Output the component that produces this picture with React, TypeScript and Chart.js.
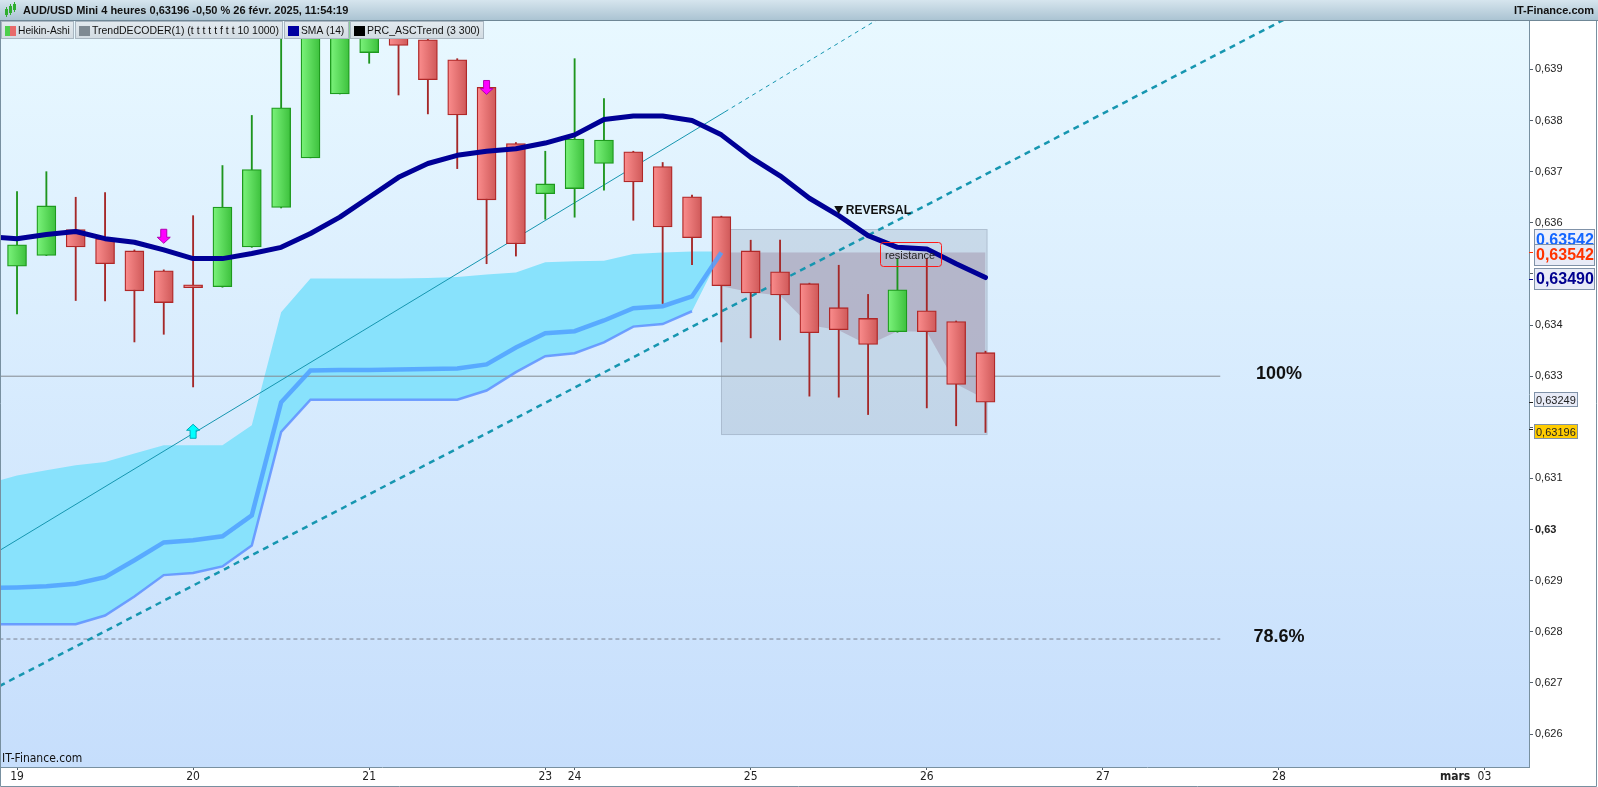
import { useEffect, useRef } from 'react';
import { Chart, registerables } from 'chart.js';

Chart.register(...registerables);

// Heikin-Ashi 4h candles, index 0 = 19 févr. 00:00 (one step = 4 hours, week-end skipped)
const haOpen = [
  0.63515, 0.63536, 0.63587, 0.63569, 0.63545, 0.63506, 0.63475, 0.63475, 0.63553, 0.6363,
  0.63727, 0.63852, 0.63933, 0.63969, 0.63958, 0.63919, 0.63865, 0.63755, 0.63657, 0.63667,
  0.63716, 0.63739, 0.6371, 0.63651, 0.63612, 0.63545, 0.63504, 0.63481, 0.63434, 0.63413,
  0.63387, 0.63428, 0.63407, 0.63346,
];
const haHigh = [
  0.63661, 0.637, 0.6365, 0.63659, 0.63547, 0.63508, 0.63614, 0.63712, 0.6381, 0.6401,
  0.6402, 0.6403, 0.6402, 0.6399, 0.6397, 0.63921, 0.63868, 0.63757, 0.6374, 0.63921,
  0.63843, 0.6374, 0.63718, 0.63654, 0.63613, 0.63566, 0.63566, 0.63482, 0.63517, 0.6346,
  0.6353, 0.6353, 0.63408, 0.63349,
];
const haLow = [
  0.63422, 0.63536, 0.63448, 0.63447, 0.63367, 0.63382, 0.63279, 0.63474, 0.63552, 0.63629,
  0.63727, 0.63852, 0.63912, 0.6385, 0.63813, 0.63706, 0.6352, 0.63535, 0.63607, 0.63611,
  0.63664, 0.63605, 0.63442, 0.63518, 0.63367, 0.63375, 0.63371, 0.63261, 0.63259, 0.63225,
  0.63386, 0.63238, 0.63203, 0.6319,
];
const haClose = [
  0.63557, 0.63633, 0.63553, 0.6352, 0.63467, 0.63444, 0.63473, 0.63631, 0.63704, 0.63825,
  0.63977, 0.64014, 0.64005, 0.63947, 0.6388, 0.63811, 0.63645, 0.63559, 0.63676, 0.63764,
  0.63762, 0.6368, 0.63592, 0.63571, 0.63477, 0.63463, 0.63459, 0.63385, 0.63391, 0.63362,
  0.63469, 0.63387, 0.63284, 0.63249,
];

// SMA(14), from index -1 to 33
const sma14 = [
  0.63573, 0.63569, 0.63577, 0.63583, 0.63569, 0.63562, 0.63547, 0.6353, 0.6353, 0.6354,
  0.63552, 0.63579, 0.63611, 0.6365, 0.63689, 0.63716, 0.63732, 0.6374, 0.63745, 0.63756,
  0.63772, 0.63802, 0.63809, 0.63809, 0.638, 0.63772, 0.63728, 0.63692, 0.63648, 0.63614,
  0.63575, 0.63552, 0.63549, 0.6352, 0.63493,
];

// TrendDECODER cloud and bands, from index -1
const cloudTop = [
  0.6309, 0.63106, 0.63116, 0.63126, 0.63132, 0.63149, 0.63165, 0.63165, 0.63165, 0.63204,
  0.63425, 0.63491, 0.63491, 0.63491, 0.63491, 0.63492, 0.63494, 0.63499, 0.63503, 0.63523,
  0.63525, 0.63526, 0.63539, 0.63542, 0.63544, 0.63544,
];
const cloudBottom = [
  0.62815, 0.62815, 0.62815, 0.62815, 0.62832, 0.62869, 0.62911, 0.62915, 0.62928, 0.62969,
  0.63191, 0.63254, 0.63254, 0.63254, 0.63254, 0.63254, 0.63254, 0.63272, 0.63308, 0.63339,
  0.63345, 0.63366, 0.63397, 0.63402, 0.63427, 0.63542,
];
const bandUpper = [
  0.62886, 0.62887, 0.62889, 0.62894, 0.62907, 0.6294, 0.62975, 0.62979, 0.62987, 0.63028,
  0.63249, 0.63311, 0.63312, 0.63312, 0.63313, 0.63314, 0.63315, 0.63323, 0.63356, 0.63384,
  0.63388, 0.63409, 0.63433, 0.63437, 0.63456, 0.63542,
];
const bandLower = [
  0.62815, 0.62815, 0.62815, 0.62815, 0.62832, 0.62869, 0.62911, 0.62915, 0.62928, 0.62969,
  0.63191, 0.63254, 0.63254, 0.63254, 0.63254, 0.63254, 0.63254, 0.63272, 0.63308, 0.63339,
  0.63345, 0.63366, 0.63397, 0.63402, 0.63427,
];

// resistance zone, from index 24 to 33
const zoneTop = 0.63542;
const zoneLow = [0.63476, 0.63464, 0.63458, 0.634, 0.6339, 0.63361, 0.63388, 0.63387, 0.63285, 0.63255];
const zoneX = [24, 33.05];
const zoneY = [0.63186, 0.63587];

// PRC_ASCTrend lines: [index, price]
const thinTrend = [[-0.6, 0.62959], [24.12, 0.63817]];
const thinTrendExt = [[24.12, 0.63817], [31, 0.64056]];
const thickTrend = [[-0.6, 0.62694], [44, 0.64022]];

const fibLevels = [0.633, 0.62786];
const fibNames = ['100%', '78.6%'];
const fibEnd = 41;
const fibLabelAt = 43;

const arrowsDown = [[5, 0.6356], [16, 0.63851]];
const arrowsUp = [[6, 0.63206]];
const reversalAt = [28, 0.63625];
const resistanceAt = [30.43, 0.63538];

const dayTickIdx = [0, 6, 12, 18, 19, 25, 31, 37, 43, 49, 50];
const dayTickText = ['19', '20', '21', '23', '24', '25', '26', '27', '28', 'mars', '03'];
const priceTicks = [0.626, 0.627, 0.628, 0.629, 0.63, 0.631, 0.632, 0.633, 0.634, 0.635, 0.636, 0.637, 0.638, 0.639];
// 0,632 and 0,635 sit under the price tags
const priceTickText = ['0,626', '0,627', '0,628', '0,629', '0,63', '0,631', '', '0,633', '0,634', '', '0,636', '0,637', '0,638', '0,639'];

const tagValues = [0.63542, 0.63542, 0.6349, 0.63249, 0.63196];
const tagText = ['0,63542', '0,63542', '0,63490', '0,63249', '0,63196'];

const SANS = "'Liberation Sans', Arial, sans-serif";
const NARROW = "'Liberation Sans Narrow', 'DejaVu Sans Condensed', 'Liberation Sans', sans-serif";
const TEAL = 'rgb(22,150,176)';

const isUp = (i: number) => haClose[i] >= haOpen[i];
const series = (arr: number[], start: number) => arr.map((y, i) => ({ x: start + i, y }));
const pairs = (arr: number[][]) => arr.map(([x, y]) => ({ x, y }));

const tagStyle = [
  { color: '#1466ff', font: `bold 16px ${SANS}`, w: 61, h: 22, dy: -12, bg: '#eef0fa' },
  { color: '#ff3300', font: `bold 16px ${SANS}`, w: 61, h: 22, dy: 3, bg: '#e8ebf7' },
  { color: '#00008f', font: `bold 16px ${SANS}`, w: 61, h: 22, dy: 0, bg: '#e8ebf7' },
  { color: '#222', font: `11px ${SANS}`, w: 44, h: 15, dy: -2.5, bg: '#e8ebf7' },
  { color: '#222', font: `11px ${SANS}`, w: 44, h: 15, dy: 1.7, bg: '#ffcc00' },
];

function arrow(ctx: CanvasRenderingContext2D, x: number, tip: number, down: boolean, fill: string, stroke: string) {
  const d = down ? -1 : 1;
  ctx.beginPath();
  ctx.moveTo(x - 3, tip + d * 14);
  ctx.lineTo(x + 3, tip + d * 14);
  ctx.lineTo(x + 3, tip + d * 6);
  ctx.lineTo(x + 6.5, tip + d * 6);
  ctx.lineTo(x, tip);
  ctx.lineTo(x - 6.5, tip + d * 6);
  ctx.lineTo(x - 3, tip + d * 6);
  ctx.closePath();
  ctx.fillStyle = fill;
  ctx.fill();
  ctx.strokeStyle = stroke;
  ctx.lineWidth = 1;
  ctx.stroke();
}

const itfPlugin = {
  id: 'itf',
  beforeDraw(chart: any) {
    const { ctx, chartArea: a, width, height } = chart;
    ctx.save();
    ctx.fillStyle = '#fff';
    ctx.fillRect(0, 0, width, height);
    const g = ctx.createLinearGradient(0, a.top, 0, a.bottom);
    g.addColorStop(0, '#e8f8ff');
    g.addColorStop(1, '#c6defc');
    ctx.fillStyle = g;
    ctx.fillRect(a.left, a.top, a.right - a.left, a.bottom - a.top);
    ctx.restore();
  },
  beforeDatasetsDraw(chart: any) {
    const { ctx, scales } = chart;
    const x0 = scales.x.getPixelForValue(zoneX[0]);
    const x1 = scales.x.getPixelForValue(zoneX[1]);
    const y0 = scales.y.getPixelForValue(zoneY[1]);
    const y1 = scales.y.getPixelForValue(zoneY[0]);
    ctx.save();
    ctx.fillStyle = 'rgba(150,165,185,0.3)';
    ctx.fillRect(x0, y0, x1 - x0, y1 - y0);
    ctx.strokeStyle = 'rgba(140,155,175,0.5)';
    ctx.lineWidth = 1;
    ctx.strokeRect(Math.round(x0) + 0.5, Math.round(y0) + 0.5, x1 - x0, y1 - y0);
    ctx.restore();
  },
  afterDatasetsDraw(chart: any) {
    const { ctx, scales } = chart;
    const X = (v: number) => scales.x.getPixelForValue(v);
    const Y = (v: number) => scales.y.getPixelForValue(v);
    ctx.save();
    arrowsDown.forEach(([i, v]) => arrow(ctx, X(i), Y(v), true, '#ff00ff', '#b000b0'));
    arrowsUp.forEach(([i, v]) => arrow(ctx, X(i), Y(v), false, '#00ffff', '#00a8b8'));

    // reversal marker
    const rx = X(reversalAt[0]);
    const ry = Y(reversalAt[1]);
    ctx.fillStyle = '#111';
    ctx.beginPath();
    ctx.moveTo(rx - 4.5, ry - 4);
    ctx.lineTo(rx + 4.5, ry - 4);
    ctx.lineTo(rx, ry + 4);
    ctx.closePath();
    ctx.fill();
    ctx.font = `bold 12px ${SANS}`;
    ctx.textBaseline = 'middle';
    ctx.textAlign = 'left';
    ctx.fillText('REVERSAL', rx + 7, ry + 0.5);

    // resistance label
    const sx = X(resistanceAt[0]);
    const sy = Y(resistanceAt[1]);
    ctx.strokeStyle = '#ff1a1a';
    ctx.lineWidth = 1;
    ctx.beginPath();
    ctx.roundRect(Math.round(sx - 30.5) + 0.5, Math.round(sy - 12.5) + 0.5, 61, 24, 3);
    ctx.stroke();
    ctx.fillStyle = '#222';
    ctx.font = `11px ${SANS}`;
    ctx.textAlign = 'center';
    ctx.fillText('resistance', sx, sy + 1);

    // fibonacci labels
    ctx.font = `bold 18px ${SANS}`;
    ctx.fillStyle = '#111';
    fibLevels.forEach((lv, k) => ctx.fillText(fibNames[k], X(fibLabelAt), Y(lv) - 2));

    // watermark
    ctx.font = `12px ${NARROW}`;
    ctx.textAlign = 'left';
    ctx.fillText('IT-Finance.com', 2, chart.chartArea.bottom - 8);
    ctx.restore();
  },
  afterDraw(chart: any) {
    const { ctx, scales, width, height, chartArea: a } = chart;
    ctx.save();
    // header bar
    const hg = ctx.createLinearGradient(0, 0, 0, 21);
    hg.addColorStop(0, '#d6e5ee');
    hg.addColorStop(1, '#a9c2d1');
    ctx.fillStyle = hg;
    ctx.fillRect(0, 0, width, 21);
    ctx.fillStyle = '#6f8796';
    ctx.fillRect(0, 20, width, 1);
    // small candle icon
    ctx.fillStyle = '#2fae2f';
    [[5, 9, 6], [9, 6, 7], [13, 4, 6]].forEach(([x, y, h]) => {
      ctx.fillRect(x, y, 3, h);
      ctx.fillRect(x + 1, y - 2, 1, h + 4);
    });
    ctx.fillStyle = '#111';
    ctx.font = `bold 11px ${SANS}`;
    ctx.textBaseline = 'middle';
    ctx.textAlign = 'left';
    ctx.fillText('AUD/USD Mini 4 heures 0,63196 -0,50 % 26 févr. 2025, 11:54:19', 23, 11);
    ctx.textAlign = 'right';
    ctx.fillText('IT-Finance.com', 1594, 11);

    // legend boxes
    const items = [
      { x: 1, w: 73, text: 'Heikin-Ashi', sw: 'ha' },
      { x: 75, w: 208, text: 'TrendDECODER(1) (t t t t t f t t 10 1000)', sw: '#7f8a93' },
      { x: 284, w: 65, text: 'SMA (14)', sw: '#0000a0' },
      { x: 350, w: 134, text: 'PRC_ASCTrend (3 300)', sw: '#000' },
    ];
    ctx.textAlign = 'left';
    items.forEach((it) => {
      const lg = ctx.createLinearGradient(0, 21, 0, 39);
      lg.addColorStop(0, '#e3eaef');
      lg.addColorStop(1, '#d2dbe2');
      ctx.fillStyle = lg;
      ctx.fillRect(it.x, 21, it.w, 18);
      ctx.strokeStyle = '#a9b6c1';
      ctx.lineWidth = 1;
      ctx.strokeRect(it.x + 0.5, 21.5, it.w - 1, 17);
      if (it.sw === 'ha') {
        ctx.fillStyle = '#4ccf4c';
        ctx.fillRect(it.x + 4, 26, 5, 10);
        ctx.fillStyle = '#e86a6a';
        ctx.fillRect(it.x + 9, 26, 6, 10);
      } else {
        ctx.fillStyle = it.sw;
        ctx.fillRect(it.x + 4, 26, 11, 10);
      }
      // fit the label inside its box
      let size = 11.5;
      ctx.font = `${size}px ${SANS}`;
      while (ctx.measureText(it.text).width > it.w - 21 && size > 8) {
        size -= 0.25;
        ctx.font = `${size}px ${SANS}`;
      }
      ctx.fillStyle = '#111';
      ctx.fillText(it.text, it.x + 17, 31);
    });

    // price tags on the right axis
    const ax = a.right;
    tagValues.forEach((v, k) => {
      const st = tagStyle[k];
      const cy = scales.y.getPixelForValue(v) + st.dy;
      const top = Math.round(cy - st.h / 2);
      ctx.fillStyle = st.color;
      ctx.fillRect(ax, Math.round(scales.y.getPixelForValue(v)), 4, 1);
      ctx.fillStyle = st.bg;
      ctx.fillRect(ax + 5, top, st.w, st.h);
      ctx.strokeStyle = '#8092a8';
      ctx.strokeRect(ax + 5.5, top + 0.5, st.w - 1, st.h - 1);
      ctx.fillStyle = st.color;
      ctx.font = st.font;
      ctx.textAlign = 'left';
      ctx.fillText(tagText[k], ax + 7, top + st.h / 2 + 1);
    });

    // frame
    ctx.strokeStyle = '#7890a0';
    ctx.lineWidth = 1;
    ctx.beginPath();
    ctx.moveTo(0.5, 21);
    ctx.lineTo(0.5, height - 0.5);
    ctx.lineTo(width - 1.5, height - 0.5);
    ctx.lineTo(width - 1.5, 21);
    ctx.stroke();
    ctx.restore();
  },
};

const lineBase = { type: 'line' as const, pointRadius: 0, tension: 0, clip: 0 as any };

function bodyFill(c: any) {
  if (c.type !== 'data') return '#888';
  const up = isUp(c.dataIndex);
  const px = c.chart.scales.x ? c.chart.scales.x.getPixelForValue(c.dataIndex) : NaN;
  if (!Number.isFinite(px)) return up ? '#5cdc5c' : '#e87272';
  const g = c.chart.ctx.createLinearGradient(px - 9, 0, px + 9, 0);
  if (up) {
    g.addColorStop(0, '#7af27a');
    g.addColorStop(1, '#3ec23e');
  } else {
    g.addColorStop(0, '#fa8c8c');
    g.addColorStop(1, '#d05a5a');
  }
  return g;
}

export default function App() {
  const canvasRef = useRef<HTMLCanvasElement>(null);

  useEffect(() => {
    if (!canvasRef.current) return;

    const chart = new Chart(canvasRef.current, {
      type: 'bar',
      data: {
        datasets: [
          {
            ...lineBase, data: series(cloudTop, -1), fill: '+1', backgroundColor: 'rgb(136,226,252)',
            borderColor: 'transparent', borderWidth: 0, order: 100,
          },
          { ...lineBase, data: series(cloudBottom, -1), fill: false, borderColor: 'transparent', borderWidth: 0, order: 101 },
          {
            ...lineBase, data: zoneLow.map((_, i) => ({ x: 24 + i, y: zoneTop })), fill: '+1',
            backgroundColor: 'rgba(172,166,188,0.7)', borderColor: 'transparent', borderWidth: 0, order: 98,
          },
          { ...lineBase, data: series(zoneLow, 24), fill: false, borderColor: 'transparent', borderWidth: 0, order: 99 },
          ...fibLevels.map((lv, k) => ({
            ...lineBase, data: [{ x: -0.6, y: lv }, { x: fibEnd, y: lv }], borderColor: k === 0 ? '#858a90' : '#7a8090',
            borderWidth: 1, borderDash: k === 0 ? [] : [4, 3], order: 90,
          })),
          { ...lineBase, data: pairs(thickTrend), borderColor: TEAL, borderWidth: 2.5, borderDash: [6, 5], order: 85 },
          { ...lineBase, data: pairs(thinTrend), borderColor: TEAL, borderWidth: 1, order: 85 },
          { ...lineBase, data: pairs(thinTrendExt), borderColor: TEAL, borderWidth: 1, borderDash: [4, 4], order: 85 },
          { ...lineBase, data: series(bandLower, -1), borderColor: 'rgba(95,145,255,0.85)', borderWidth: 2.5, order: 80 },
          {
            type: 'bar', data: haLow.map((l, i) => ({ x: i, y: [l, haHigh[i]] })), grouped: false, barThickness: 1.2,
            backgroundColor: (c: any) => (c.type === 'data' && isUp(c.dataIndex) ? '#1e951e' : '#a52828'),
            borderWidth: 0, order: 30, clip: 0,
          },
          {
            type: 'bar', data: haOpen.map((o, i) => ({ x: i, y: [o, haClose[i]] })), grouped: false, barThickness: 19,
            minBarLength: 3,
            backgroundColor: bodyFill,
            borderColor: (c: any) => (c.type === 'data' && isUp(c.dataIndex) ? '#1e9a1e' : '#b02828'),
            borderWidth: 1.3, borderSkipped: false, order: 20, clip: 0,
          },
          { ...lineBase, data: series(bandUpper, -1), borderColor: 'rgba(80,160,255,0.85)', borderWidth: 4.5, order: 15 },
          {
            ...lineBase, data: series(sma14, -1), borderColor: '#000096', borderWidth: 5,
            borderJoinStyle: 'round', borderCapStyle: 'round', order: 5,
          },
        ] as any,
      },
      options: {
        animation: false,
        responsive: false,
        devicePixelRatio: 1,
        events: [],
        layout: { padding: { top: 21, left: 0, right: 0, bottom: 0 } },
        plugins: { legend: { display: false }, tooltip: { enabled: false } },
        scales: {
          x: {
            type: 'linear',
            min: -0.58,
            max: 51.52,
            offset: false,
            afterBuildTicks: (s: any) => { s.ticks = dayTickIdx.map((value) => ({ value })); },
            afterFit: (s: any) => { s.height = 20; },
            ticks: {
              autoSkip: false,
              maxRotation: 0,
              padding: 0,
              color: '#222',
              font: (c: any) => ({ family: NARROW, size: 12, weight: c.tick && c.tick.value === 49 ? 'bold' : 'normal' }),
              callback: (v: any) => dayTickText[dayTickIdx.indexOf(v)] ?? '',
            },
            grid: { drawOnChartArea: false, offset: false, tickLength: 3, color: '#55606c' },
            border: { color: '#7890a0' },
          },
          y: {
            type: 'linear',
            position: 'right',
            min: 0.625357,
            max: 0.639947,
            beginAtZero: false,
            afterBuildTicks: (s: any) => { s.ticks = priceTicks.map((value) => ({ value })); },
            afterFit: (s: any) => { s.width = 69; },
            ticks: {
              autoSkip: false,
              padding: 2,
              color: '#222',
              font: (c: any) => ({ family: SANS, size: 11, weight: c.tick && Math.abs(c.tick.value - 0.63) < 1e-7 ? 'bold' : 'normal' }),
              callback: (v: any) => {
                const i = priceTicks.findIndex((t) => Math.abs(t - v) < 1e-7);
                return i >= 0 ? priceTickText[i] : '';
              },
            },
            grid: { drawOnChartArea: false, tickLength: 4, color: '#55606c' },
            border: { color: '#7890a0' },
          },
        },
      } as any,
      plugins: [itfPlugin],
    });

    return () => {
      chart.destroy();
    };
  }, []);

  return (
    <div style={{ position: 'fixed', left: 0, top: 0, width: 1598, height: 787, background: '#fff' }}>
      <canvas ref={canvasRef} width={1598} height={787} style={{ display: 'block', width: 1598, height: 787 }} />
    </div>
  );
}
